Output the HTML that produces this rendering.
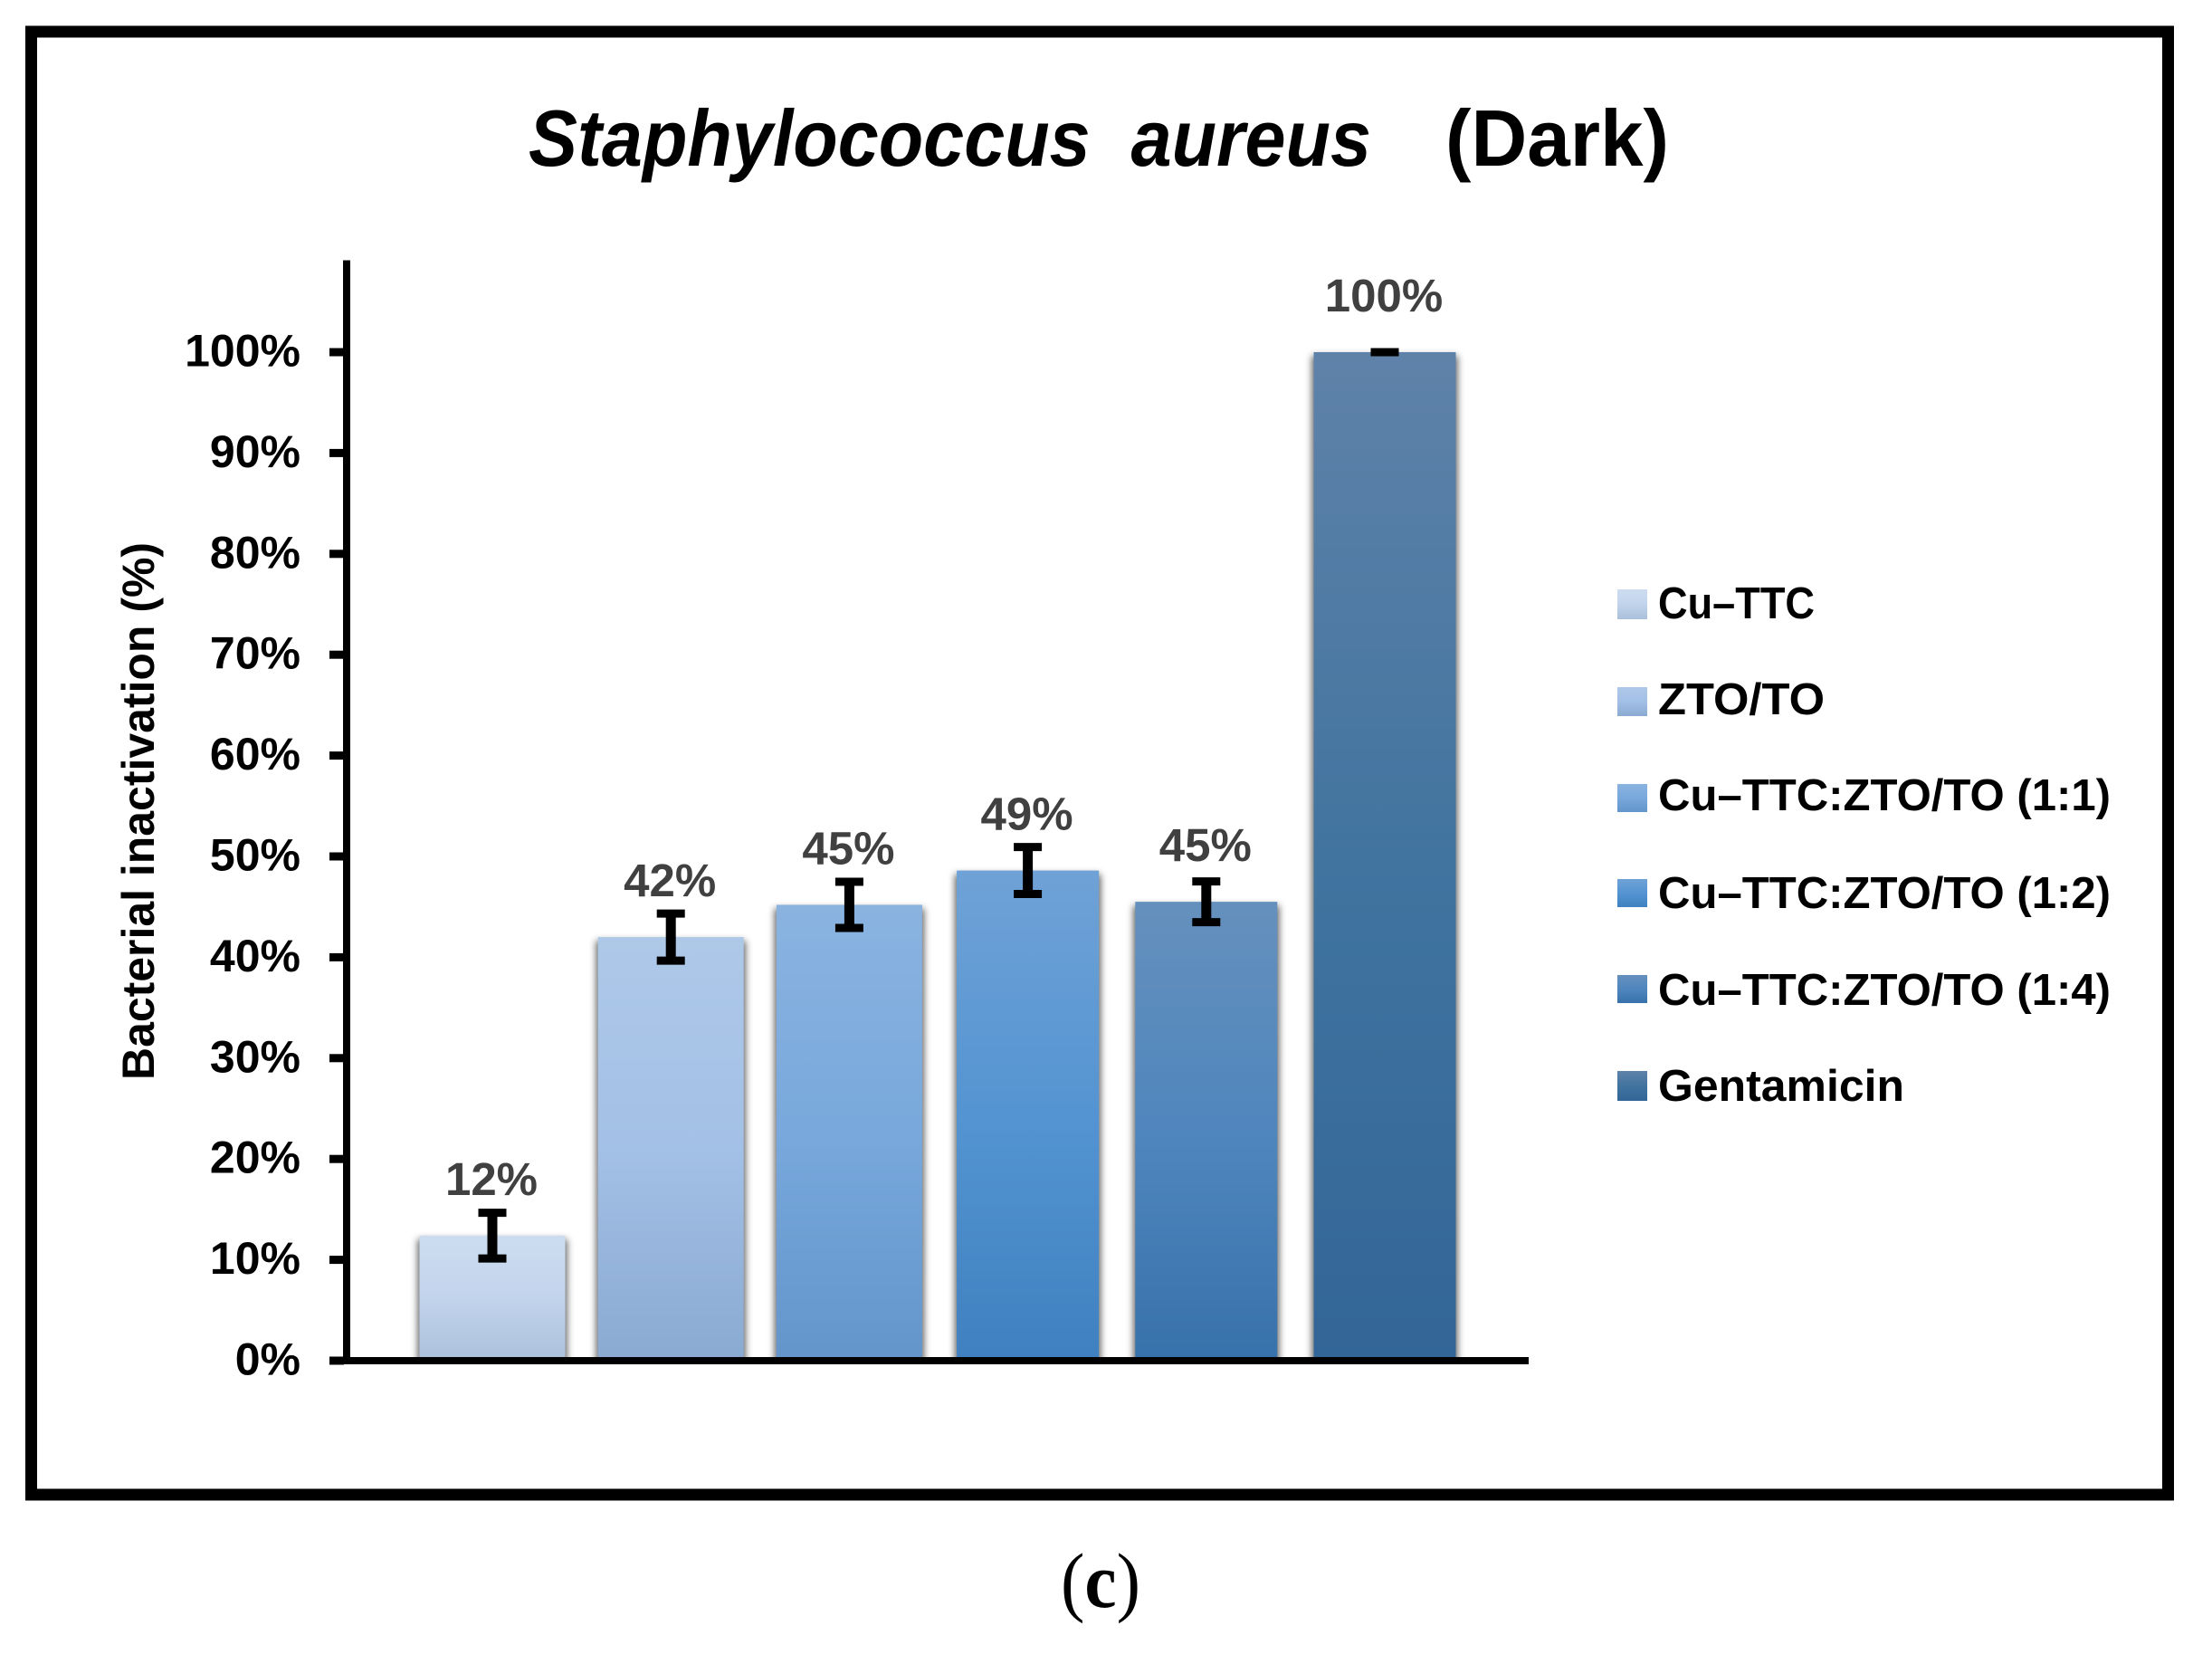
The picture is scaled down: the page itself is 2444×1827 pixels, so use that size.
<!DOCTYPE html>
<html lang="en">
<head>
<meta charset="utf-8">
<title>Staphylococcus aureus (Dark)</title>
<style>
  html, body { margin: 0; padding: 0; background: #fff; }
  svg { display: block; font-family: "Liberation Sans", sans-serif; }
</style>
</head>
<body>
<svg id="chart" xmlns="http://www.w3.org/2000/svg" width="2444" height="1827" viewBox="0 0 2444 1827">
  <defs>
    <linearGradient id="grad-0" x1="0" y1="0" x2="0" y2="1"><stop offset="0" stop-color="#cddcf0"/><stop offset=".5" stop-color="#c2d4ec"/><stop offset="1" stop-color="#abc0db"/></linearGradient>
    <linearGradient id="grad-1" x1="0" y1="0" x2="0" y2="1"><stop offset="0" stop-color="#aec8e8"/><stop offset=".5" stop-color="#a3c0e6"/><stop offset="1" stop-color="#8aaad1"/></linearGradient>
    <linearGradient id="grad-2" x1="0" y1="0" x2="0" y2="1"><stop offset="0" stop-color="#8ab3e0"/><stop offset=".5" stop-color="#78a8dc"/><stop offset="1" stop-color="#6395cb"/></linearGradient>
    <linearGradient id="grad-3" x1="0" y1="0" x2="0" y2="1"><stop offset="0" stop-color="#6fa2d6"/><stop offset=".5" stop-color="#5494d2"/><stop offset="1" stop-color="#3f80c0"/></linearGradient>
    <linearGradient id="grad-4" x1="0" y1="0" x2="0" y2="1"><stop offset="0" stop-color="#6590bd"/><stop offset=".5" stop-color="#4f86bd"/><stop offset="1" stop-color="#3872ab"/></linearGradient>
    <linearGradient id="grad-5" x1="0" y1="0" x2="0" y2="1"><stop offset="0" stop-color="#5f82a9"/><stop offset=".5" stop-color="#41749f"/><stop offset="1" stop-color="#336698"/></linearGradient>
    <filter id="bar-shadow" x="-20%" y="-20%" width="140%" height="140%"><feGaussianBlur stdDeviation="4"/></filter>
    <clipPath id="plot-clip"><rect x="387" y="200" width="1400" height="1299"/></clipPath>
  </defs>

  <rect x="0" y="0" width="2444" height="1827" fill="#ffffff"/>
  <rect x="34.5" y="35" width="2361" height="1616" fill="none" stroke="#000" stroke-width="13"/>

  <text x="584" y="183" font-size="88" font-weight="bold" font-style="italic" textLength="931" lengthAdjust="spacingAndGlyphs" xml:space="preserve">Staphylococcus  aureus</text>
  <text x="1597" y="183" font-size="88" font-weight="bold" textLength="247" lengthAdjust="spacingAndGlyphs">(Dark)</text>

  <text transform="translate(170 1193) rotate(-90)" x="0" y="0" font-size="50" font-weight="bold" textLength="594" lengthAdjust="spacingAndGlyphs">Bacterial inactivation (%)</text>

  <g id="shadows" clip-path="url(#plot-clip)"></g>
  <g id="bars"></g>
  <g id="errors"></g>
  <g id="labels"></g>
  <g id="axes"></g>

  <g font-size="49" font-weight="bold">
    <g>
      <rect x="1787" y="651" width="33" height="33" fill="url(#grad-0)"/>
      <text x="1832" y="683" textLength="173" lengthAdjust="spacingAndGlyphs">Cu–TTC</text>
    </g>
    <g>
      <rect x="1787" y="759" width="33" height="32" fill="url(#grad-1)"/>
      <text x="1832" y="789" textLength="184" lengthAdjust="spacingAndGlyphs">ZTO/TO</text>
    </g>
    <g>
      <rect x="1787" y="866" width="33" height="31" fill="url(#grad-2)"/>
      <text x="1832" y="895" textLength="500" lengthAdjust="spacingAndGlyphs">Cu–TTC:ZTO/TO (1:1)</text>
    </g>
    <g>
      <rect x="1787" y="971" width="33" height="31" fill="url(#grad-3)"/>
      <text x="1832" y="1003" textLength="500" lengthAdjust="spacingAndGlyphs">Cu–TTC:ZTO/TO (1:2)</text>
    </g>
    <g>
      <rect x="1787" y="1077" width="33" height="31" fill="url(#grad-4)"/>
      <text x="1832" y="1110" textLength="500" lengthAdjust="spacingAndGlyphs">Cu–TTC:ZTO/TO (1:4)</text>
    </g>
    <g>
      <rect x="1787" y="1183" width="33" height="33" fill="url(#grad-5)"/>
      <text x="1832" y="1216" textLength="272" lengthAdjust="spacingAndGlyphs">Gentamicin</text>
    </g>
  </g>

  <text x="1172" y="1775" font-family="'Liberation Serif', serif" font-size="86" textLength="88" lengthAdjust="spacingAndGlyphs">(<tspan font-weight="bold">c</tspan>)</text>
</svg>

<script>
const categories = ['Cu-TTC', 'ZTO/TO', 'Cu-TTC:ZTO/TO (1:1)', 'Cu-TTC:ZTO/TO (1:2)', 'Cu-TTC:ZTO/TO (1:4)', 'Gentamicin'];
const inactivation = [12.4, 42.0, 45.2, 48.6, 45.5, 100];
const errorValues = [2.27, 2.33, 2.29, 2.33, 2.02, 0];
const printedValues = ['12%', '42%', '45%', '49%', '45%', '100%'];
const tickValues = [0, 10, 20, 30, 40, 50, 60, 70, 80, 90, 100];
const tickLabels = ['0%', '10%', '20%', '30%', '40%', '50%', '60%', '70%', '80%', '90%', '100%'];

const SVG_NS = 'http://www.w3.org/2000/svg';
function yScale(v) { return 1503 - v * 11.14; }
function xScale(i) { return 544 + i * 197.2; }
function bandWidth(i) { return i < 3 ? 161 : 157; }
function make(tag, parent, attrs) {
  const el = document.createElementNS(SVG_NS, tag);
  for (const k in attrs) { el.setAttribute(k, attrs[k]); }
  parent.appendChild(el);
  return el;
}
function slug(s) { return s.toLowerCase().replace(/[^a-z0-9]+/g, '-').replace(/-$/, ''); }

const shadowsGroup = document.getElementById('shadows');
const barsGroup = document.getElementById('bars');
const errorsGroup = document.getElementById('errors');
const labelsGroup = document.getElementById('labels');
const axesGroup = document.getElementById('axes');

categories.forEach(function (cat, i) {
  const name = slug(cat);
  const cx = xScale(i);
  const w = bandWidth(i);
  const top = yScale(inactivation[i]);
  const base = yScale(0);

  const shadow = make('rect', shadowsGroup, { x: cx - w / 2 - 2, y: top + 4, width: w + 4, height: base - top + 20, fill: '#000', 'fill-opacity': 0.62, filter: 'url(#bar-shadow)' });
  
  

  const bar = make('rect', barsGroup, { x: cx - w / 2, y: top, width: w, height: base - top, fill: 'url(#grad-' + i + ')' });
  
  

  const hi = yScale(inactivation[i] + errorValues[i]);
  const lo = yScale(inactivation[i] - errorValues[i]);
  const stem = make('line', errorsGroup, { x1: cx, x2: cx, y1: hi, y2: lo, stroke: '#000', 'stroke-width': 11 });
  
  

  const capHi = make('line', errorsGroup, { x1: cx - 15.5, x2: cx + 15.5, y1: hi, y2: hi, stroke: '#000', 'stroke-width': 9 });
  
  

  const capLo = make('line', errorsGroup, { x1: cx - 15.5, x2: cx + 15.5, y1: lo, y2: lo, stroke: '#000', 'stroke-width': 9 });
  
  

  const label = make('text', labelsGroup, { x: cx - 1, y: top - 45, 'text-anchor': 'middle', 'font-size': 51, 'font-weight': 'bold', fill: '#404040' });
  label.textContent = printedValues[i];
  
  
});

const yAxisLine = make('rect', axesGroup, { x: 379, y: 287.5, width: 8, height: 1507 - 287.5, fill: '#000' });



const xAxisLine = make('rect', axesGroup, { x: 379, y: 1499, width: 1689 - 379, height: 8, fill: '#000' });



tickValues.forEach(function (v, i) {
  const y = yScale(v);
  const tick = make('rect', axesGroup, { x: 364, y: y - 4.5, width: 16, height: 9, fill: '#000' });
  
  

  const tl = make('text', axesGroup, { x: 332, y: y + 15.5, 'text-anchor': 'end', 'font-size': 50, 'font-weight': 'bold', fill: '#000' });
  tl.textContent = tickLabels[i];
  
  
});
</script>
</body>
</html>
